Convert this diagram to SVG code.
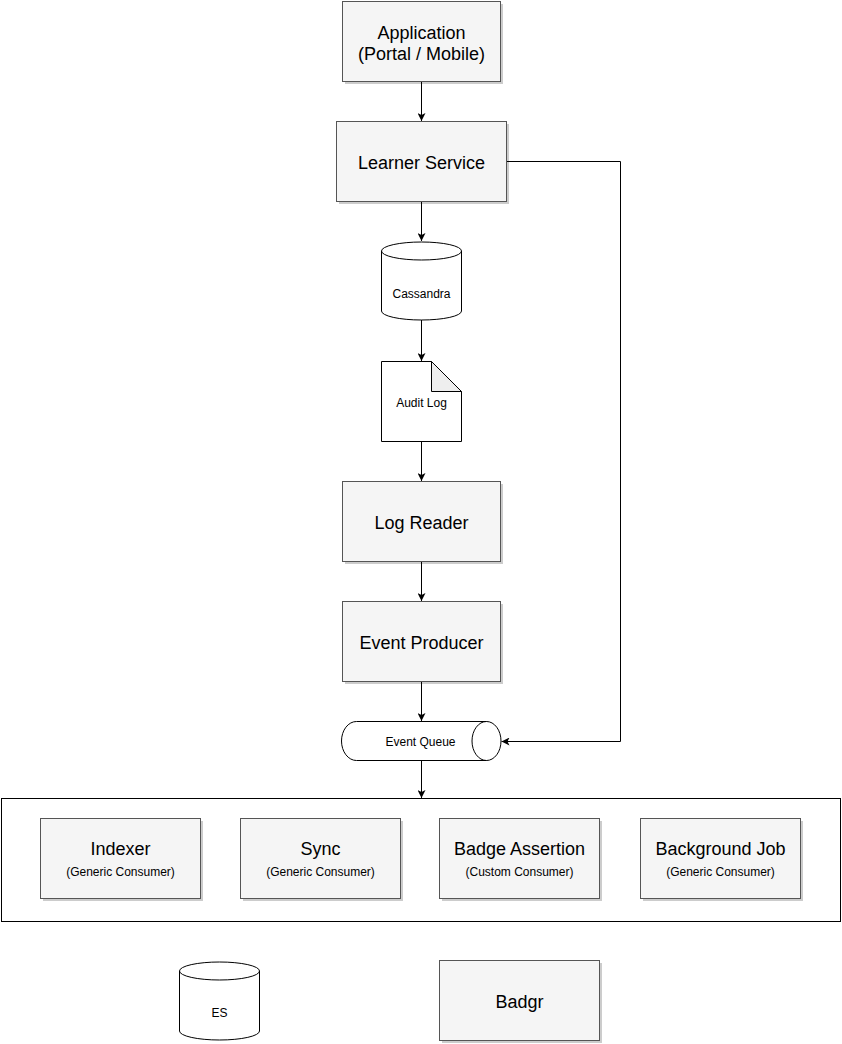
<svg xmlns="http://www.w3.org/2000/svg" width="842" height="1044" viewBox="0 0 842 1044">
  <defs>
    <marker id="arrow" viewBox="0 0 10 10" refX="10" refY="5" markerWidth="8" markerHeight="8" markerUnits="userSpaceOnUse" orient="auto">
      <path d="M0,0 L10,5 L0,10 L2.5,5 Z" fill="#000"/>
    </marker>
  </defs>
  <style>
    .box { fill: #f5f5f5; stroke: #555; stroke-width: 1; }
    .shadow { fill: #000; opacity: 0.2; }
    .plain { fill: #fff; stroke: #000; stroke-width: 1; }
    .edge { fill: none; stroke: #000; stroke-width: 1; marker-end: url(#arrow); }
    text { font-family: "Liberation Sans", Arial, Helvetica, sans-serif; fill: #000; text-anchor: middle; dominant-baseline: central; }
    .big { font-size: 18px; }
    .small { font-size: 12px; }
  </style>
  <rect x="0" y="0" width="842" height="1044" fill="#fff"/>

  <!-- consumer container -->
  <g id="consumers">
    <rect class="plain" x="1.5" y="798.5" width="839" height="123"/>
  </g>

  <g id="application">
    <rect class="shadow" x="345" y="4" width="158" height="80"/>
    <rect class="box" x="342.5" y="1.5" width="158" height="80"/>
    <text class="big" x="421.5" y="33">Application</text>
    <text class="big" x="421.5" y="54">(Portal / Mobile)</text>
  </g>

  <g id="learner-service">
    <rect class="shadow" x="339" y="124" width="170" height="80"/>
    <rect class="box" x="336.5" y="121.5" width="170" height="80"/>
    <text class="big" x="421.5" y="163">Learner Service</text>
  </g>

  <g id="cassandra">
    <path class="plain" d="M381.5,251 A40,9 0 0 1 461.5,251 V311 A40,9 0 0 1 381.5,311 Z"/>
    <path fill="none" stroke="#000" d="M381.5,251 A40,9 0 0 0 461.5,251"/>
    <text class="small" x="421.5" y="294">Cassandra</text>
  </g>

  <g id="audit-log">
    <path class="plain" d="M381.5,361.5 H431.5 L461.5,391.5 V441.5 H381.5 Z"/>
    <path d="M431.5,361.5 V391.5 H461.5 Z" fill="#eee" stroke="#000"/>
    <text class="small" x="421.5" y="403">Audit Log</text>
  </g>

  <g id="log-reader">
    <rect class="shadow" x="345" y="484" width="158" height="80"/>
    <rect class="box" x="342.5" y="481.5" width="158" height="80"/>
    <text class="big" x="421.5" y="523">Log Reader</text>
  </g>

  <g id="event-producer">
    <rect class="shadow" x="345" y="604" width="158" height="80"/>
    <rect class="box" x="342.5" y="601.5" width="158" height="80"/>
    <text class="big" x="421.5" y="643">Event Producer</text>
  </g>

  <g id="event-queue">
    <path class="plain" d="M356.5,721.5 H486.5 A14.5,19.5 0 0 1 486.5,760.5 H356.5 A15,19.5 0 0 1 356.5,721.5 Z"/>
    <path fill="none" stroke="#000" d="M486.5,721.5 A14.5,19.5 0 0 0 486.5,760.5"/>
    <text class="small" x="420.5" y="742">Event Queue</text>
  </g>

  <g id="indexer">
    <rect class="shadow" x="43" y="821" width="160" height="80"/>
    <rect class="box" x="40.5" y="818.5" width="160" height="80"/>
    <text class="big" x="120.5" y="849">Indexer</text>
    <text class="small" x="120.5" y="872">(Generic Consumer)</text>
  </g>

  <g id="sync">
    <rect class="shadow" x="243" y="821" width="160" height="80"/>
    <rect class="box" x="240.5" y="818.5" width="160" height="80"/>
    <text class="big" x="320.5" y="849">Sync</text>
    <text class="small" x="320.5" y="872">(Generic Consumer)</text>
  </g>

  <g id="badge-assertion">
    <rect class="shadow" x="442" y="821" width="160" height="80"/>
    <rect class="box" x="439.5" y="818.5" width="160" height="80"/>
    <text class="big" x="519.5" y="849">Badge Assertion</text>
    <text class="small" x="519.5" y="872">(Custom Consumer)</text>
  </g>

  <g id="background-job">
    <rect class="shadow" x="643" y="821" width="160" height="80"/>
    <rect class="box" x="640.5" y="818.5" width="160" height="80"/>
    <text class="big" x="720.5" y="849">Background Job</text>
    <text class="small" x="720.5" y="872">(Generic Consumer)</text>
  </g>

  <g id="es">
    <path class="plain" d="M179.5,971 A40,9 0 0 1 259.5,971 V1031 A40,9 0 0 1 179.5,1031 Z"/>
    <path fill="none" stroke="#000" d="M179.5,971 A40,9 0 0 0 259.5,971"/>
    <text class="small" x="219.5" y="1013">ES</text>
  </g>

  <g id="badgr">
    <rect class="shadow" x="442" y="963" width="160" height="80"/>
    <rect class="box" x="439.5" y="960.5" width="160" height="80"/>
    <text class="big" x="519.5" y="1002">Badgr</text>
  </g>

  <!-- connectors -->
  <g id="connectors">
    <path class="edge" d="M421.5,82 V121"/>
    <path class="edge" d="M421.5,202 V241"/>
    <path class="edge" d="M421.5,320 V361"/>
    <path class="edge" d="M421.5,442 V481"/>
    <path class="edge" d="M421.5,562 V601"/>
    <path class="edge" d="M421.5,682 V721"/>
    <path class="edge" d="M421.5,761 V798"/>
    <path class="edge" d="M507,161.5 H620.5 V741.5 H501.5"/>
  </g>
</svg>
